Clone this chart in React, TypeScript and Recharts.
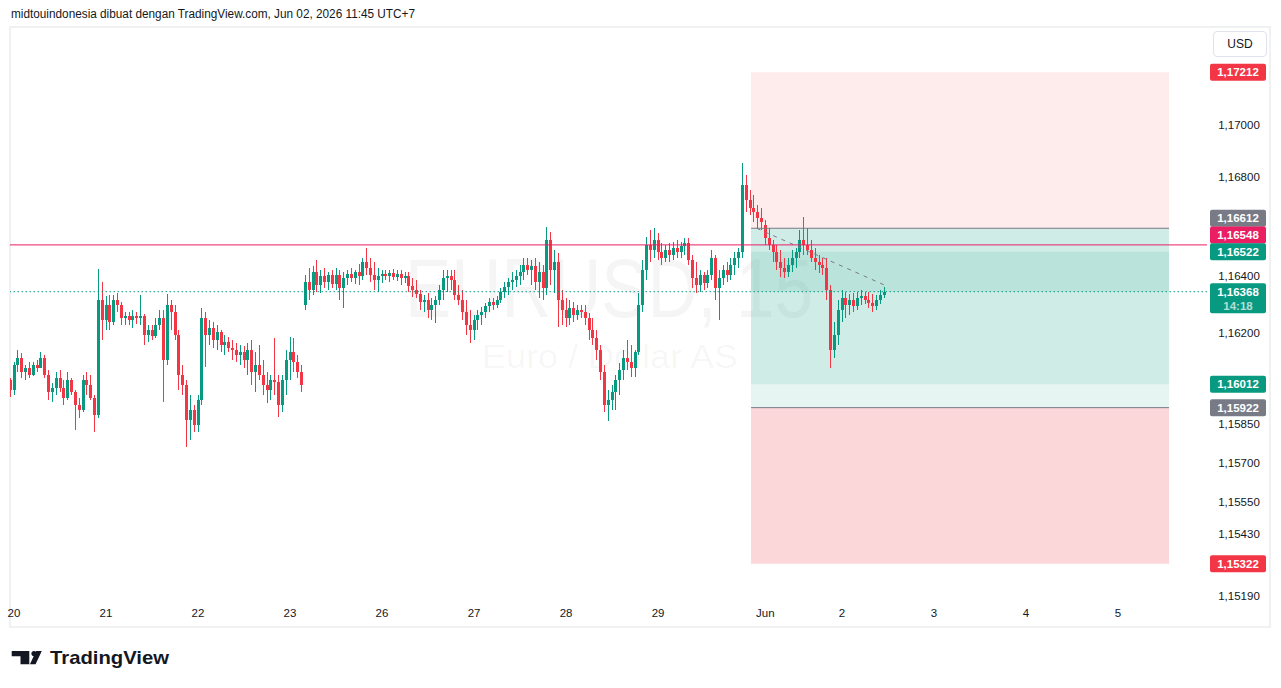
import React from 'react';
import { ComposedChart, Bar, XAxis, YAxis, ReferenceLine, ReferenceArea } from 'recharts';

// ---- Data (EUR/USD, hourly candles) ----
const firstHour = -1; // hours since May 20 00:00 (UTC+7), weekend gaps removed

const opens = [
  1.16028, 1.15990, 1.16086, 1.16113, 1.16059, 1.16075, 1.16048, 1.16086, 1.16075, 1.16113,
  1.16048, 1.15982, 1.15998, 1.16036, 1.15998, 1.15959, 1.16028, 1.15982, 1.15932, 1.15913,
  1.16028, 1.16009, 1.15959, 1.15894, 1.16336, 1.16259, 1.16317, 1.16252, 1.16336, 1.16317,
  1.16267, 1.16275, 1.16259, 1.16275, 1.16267, 1.16275, 1.16202, 1.16221, 1.16198, 1.16240,
  1.16267, 1.16105, 1.16317, 1.16290, 1.16202, 1.16048, 1.16009, 1.15875, 1.15913, 1.15855,
  1.15952, 1.16267, 1.16202, 1.16228, 1.16182, 1.16213, 1.16163, 1.16175, 1.16152, 1.16144,
  1.16125, 1.16136, 1.16105, 1.16144, 1.16059, 1.16086, 1.16048, 1.16009, 1.15990, 1.16028,
  1.16021, 1.15932, 1.16028, 1.16105, 1.16136, 1.16098, 1.16059, 1.16317, 1.16405, 1.16375,
  1.16444, 1.16394, 1.16428, 1.16405, 1.16432, 1.16398, 1.16432, 1.16382, 1.16421, 1.16436,
  1.16421, 1.16444, 1.16428, 1.16482, 1.16459, 1.16432, 1.16413, 1.16428, 1.16436, 1.16428,
  1.16440, 1.16425, 1.16436, 1.16421, 1.16428, 1.16390, 1.16375, 1.16359, 1.16328, 1.16336,
  1.16298, 1.16317, 1.16336, 1.16375, 1.16421, 1.16428, 1.16413, 1.16355, 1.16336, 1.16290,
  1.16240, 1.16221, 1.16259, 1.16278, 1.16290, 1.16313, 1.16328, 1.16317, 1.16336, 1.16367,
  1.16386, 1.16405, 1.16413, 1.16428, 1.16444, 1.16471, 1.16452, 1.16467, 1.16405, 1.16444,
  1.16382, 1.16567, 1.16452, 1.16482, 1.16336, 1.16298, 1.16267, 1.16305, 1.16278, 1.16298,
  1.16290, 1.16267, 1.16221, 1.16190, 1.16144, 1.16059, 1.15932, 1.15952, 1.15982, 1.16028,
  1.16067, 1.16113, 1.16098, 1.16075, 1.16136, 1.16317, 1.16452, 1.16548, 1.16528, 1.16567,
  1.16521, 1.16498, 1.16528, 1.16509, 1.16536, 1.16521, 1.16544, 1.16555, 1.16490, 1.16421,
  1.16394, 1.16432, 1.16402, 1.16432, 1.16498, 1.16382, 1.16421, 1.16452, 1.16432, 1.16471,
  1.16498, 1.16521, 1.16778, 1.16721, 1.16690, 1.16675, 1.16651, 1.16625, 1.16575, 1.16548,
  1.16521, 1.16482, 1.16459, 1.16444, 1.16471, 1.16498, 1.16521, 1.16567, 1.16548, 1.16528,
  1.16498, 1.16482, 1.16471, 1.16459, 1.16375, 1.16144, 1.16202, 1.16298, 1.16344, 1.16317,
  1.16336, 1.16313, 1.16344, 1.16352, 1.16336, 1.16325, 1.16313, 1.16336, 1.16355,
];

const highs = [
  1.16036, 1.16098, 1.16144, 1.16132, 1.16086, 1.16098, 1.16098, 1.16105, 1.16136, 1.16125,
  1.16067, 1.16017, 1.16059, 1.16067, 1.16028, 1.16059, 1.16036, 1.15990, 1.15959, 1.16048,
  1.16059, 1.16048, 1.15971, 1.16455, 1.16405, 1.16352, 1.16355, 1.16355, 1.16363, 1.16328,
  1.16290, 1.16290, 1.16298, 1.16290, 1.16355, 1.16282, 1.16240, 1.16240, 1.16267, 1.16298,
  1.16298, 1.16359, 1.16336, 1.16317, 1.16221, 1.16086, 1.16028, 1.15971, 1.15932, 1.15971,
  1.16305, 1.16290, 1.16259, 1.16252, 1.16240, 1.16221, 1.16202, 1.16194, 1.16182, 1.16171,
  1.16163, 1.16159, 1.16171, 1.16182, 1.16136, 1.16163, 1.16105, 1.16059, 1.16048, 1.16190,
  1.16048, 1.16048, 1.16144, 1.16194, 1.16190, 1.16125, 1.16086, 1.16432, 1.16459, 1.16467,
  1.16490, 1.16452, 1.16459, 1.16444, 1.16452, 1.16459, 1.16452, 1.16444, 1.16452, 1.16459,
  1.16452, 1.16475, 1.16498, 1.16536, 1.16498, 1.16482, 1.16459, 1.16452, 1.16452, 1.16452,
  1.16455, 1.16452, 1.16452, 1.16444, 1.16444, 1.16421, 1.16413, 1.16375, 1.16355, 1.16363,
  1.16344, 1.16352, 1.16394, 1.16452, 1.16452, 1.16452, 1.16452, 1.16394, 1.16375, 1.16336,
  1.16298, 1.16278, 1.16298, 1.16309, 1.16325, 1.16344, 1.16344, 1.16352, 1.16382, 1.16405,
  1.16421, 1.16444, 1.16452, 1.16471, 1.16498, 1.16498, 1.16490, 1.16498, 1.16482, 1.16471,
  1.16617, 1.16598, 1.16528, 1.16517, 1.16375, 1.16344, 1.16336, 1.16328, 1.16317, 1.16317,
  1.16317, 1.16286, 1.16267, 1.16221, 1.16163, 1.16086, 1.15990, 1.16009, 1.16048, 1.16094,
  1.16144, 1.16182, 1.16163, 1.16144, 1.16363, 1.16490, 1.16578, 1.16605, 1.16613, 1.16594,
  1.16555, 1.16548, 1.16555, 1.16559, 1.16567, 1.16559, 1.16575, 1.16575, 1.16509, 1.16482,
  1.16452, 1.16444, 1.16452, 1.16528, 1.16509, 1.16452, 1.16471, 1.16482, 1.16498, 1.16521,
  1.16536, 1.16863, 1.16817, 1.16759, 1.16740, 1.16702, 1.16690, 1.16644, 1.16613, 1.16567,
  1.16548, 1.16528, 1.16498, 1.16498, 1.16528, 1.16536, 1.16605, 1.16655, 1.16613, 1.16567,
  1.16536, 1.16509, 1.16498, 1.16498, 1.16394, 1.16252, 1.16336, 1.16375, 1.16367, 1.16359,
  1.16363, 1.16367, 1.16375, 1.16367, 1.16367, 1.16359, 1.16355, 1.16375, 1.16386,
];

const lows = [
  1.15963, 1.15971, 1.16059, 1.16036, 1.16028, 1.16036, 1.16044, 1.16059, 1.16075, 1.16036,
  1.15952, 1.15944, 1.15971, 1.15982, 1.15932, 1.15952, 1.15971, 1.15836, 1.15882, 1.15905,
  1.15971, 1.15952, 1.15828, 1.15882, 1.16182, 1.16221, 1.16221, 1.16240, 1.16290, 1.16240,
  1.16240, 1.16240, 1.16228, 1.16244, 1.16240, 1.16163, 1.16175, 1.16182, 1.16190, 1.16221,
  1.15944, 1.16086, 1.16221, 1.16182, 1.15990, 1.15971, 1.15771, 1.15798, 1.15828, 1.15828,
  1.15932, 1.16078, 1.16163, 1.16152, 1.16144, 1.16136, 1.16125, 1.16136, 1.16105, 1.16098,
  1.16086, 1.16075, 1.16048, 1.16009, 1.15982, 1.16028, 1.15971, 1.15940, 1.15952, 1.15971,
  1.15886, 1.15905, 1.15971, 1.16028, 1.16059, 1.16036, 1.15982, 1.16298, 1.16336, 1.16355,
  1.16367, 1.16363, 1.16382, 1.16375, 1.16382, 1.16375, 1.16336, 1.16305, 1.16394, 1.16405,
  1.16398, 1.16394, 1.16413, 1.16432, 1.16405, 1.16375, 1.16367, 1.16402, 1.16413, 1.16405,
  1.16413, 1.16409, 1.16394, 1.16402, 1.16367, 1.16348, 1.16344, 1.16298, 1.16290, 1.16267,
  1.16259, 1.16248, 1.16317, 1.16336, 1.16367, 1.16375, 1.16336, 1.16317, 1.16259, 1.16202,
  1.16171, 1.16182, 1.16221, 1.16240, 1.16267, 1.16290, 1.16298, 1.16305, 1.16325, 1.16344,
  1.16355, 1.16375, 1.16386, 1.16394, 1.16413, 1.16432, 1.16394, 1.16375, 1.16344, 1.16336,
  1.16355, 1.16394, 1.16363, 1.16232, 1.16240, 1.16232, 1.16240, 1.16252, 1.16259, 1.16267,
  1.16240, 1.16182, 1.16163, 1.16105, 1.16028, 1.15905, 1.15871, 1.15913, 1.15913, 1.15971,
  1.16028, 1.16067, 1.16040, 1.16040, 1.16125, 1.16290, 1.16413, 1.16482, 1.16498, 1.16490,
  1.16471, 1.16482, 1.16482, 1.16490, 1.16498, 1.16498, 1.16509, 1.16471, 1.16382, 1.16363,
  1.16367, 1.16375, 1.16382, 1.16413, 1.16336, 1.16259, 1.16394, 1.16405, 1.16413, 1.16432,
  1.16459, 1.16498, 1.16675, 1.16663, 1.16636, 1.16613, 1.16605, 1.16548, 1.16528, 1.16482,
  1.16452, 1.16425, 1.16421, 1.16425, 1.16444, 1.16459, 1.16498, 1.16509, 1.16509, 1.16482,
  1.16452, 1.16440, 1.16432, 1.16336, 1.16075, 1.16113, 1.16163, 1.16252, 1.16267, 1.16278,
  1.16290, 1.16298, 1.16317, 1.16321, 1.16305, 1.16290, 1.16298, 1.16321, 1.16344,
];

const closes = [
  1.15990, 1.16086, 1.16113, 1.16059, 1.16075, 1.16048, 1.16086, 1.16075, 1.16113, 1.16048,
  1.15982, 1.15998, 1.16036, 1.15998, 1.15959, 1.16028, 1.15982, 1.15932, 1.15913, 1.16028,
  1.16009, 1.15959, 1.15894, 1.16336, 1.16259, 1.16317, 1.16252, 1.16336, 1.16317, 1.16267,
  1.16275, 1.16259, 1.16275, 1.16267, 1.16275, 1.16202, 1.16221, 1.16198, 1.16240, 1.16267,
  1.16105, 1.16317, 1.16290, 1.16202, 1.16048, 1.16009, 1.15875, 1.15913, 1.15855, 1.15952,
  1.16267, 1.16202, 1.16228, 1.16182, 1.16213, 1.16163, 1.16175, 1.16152, 1.16144, 1.16125,
  1.16136, 1.16105, 1.16144, 1.16059, 1.16086, 1.16048, 1.16009, 1.15990, 1.16028, 1.16021,
  1.15932, 1.16028, 1.16105, 1.16136, 1.16098, 1.16059, 1.16009, 1.16405, 1.16375, 1.16444,
  1.16394, 1.16428, 1.16405, 1.16432, 1.16398, 1.16432, 1.16382, 1.16421, 1.16436, 1.16421,
  1.16444, 1.16428, 1.16482, 1.16459, 1.16432, 1.16413, 1.16428, 1.16436, 1.16428, 1.16440,
  1.16425, 1.16436, 1.16421, 1.16428, 1.16390, 1.16375, 1.16359, 1.16328, 1.16336, 1.16298,
  1.16317, 1.16336, 1.16375, 1.16421, 1.16428, 1.16413, 1.16355, 1.16336, 1.16290, 1.16240,
  1.16221, 1.16259, 1.16278, 1.16290, 1.16313, 1.16328, 1.16317, 1.16336, 1.16367, 1.16386,
  1.16405, 1.16413, 1.16428, 1.16444, 1.16471, 1.16452, 1.16467, 1.16405, 1.16444, 1.16382,
  1.16567, 1.16452, 1.16482, 1.16336, 1.16298, 1.16267, 1.16305, 1.16278, 1.16298, 1.16290,
  1.16267, 1.16221, 1.16190, 1.16144, 1.16059, 1.15932, 1.15952, 1.15982, 1.16028, 1.16067,
  1.16113, 1.16098, 1.16075, 1.16136, 1.16317, 1.16452, 1.16548, 1.16528, 1.16567, 1.16521,
  1.16498, 1.16528, 1.16509, 1.16536, 1.16521, 1.16544, 1.16555, 1.16490, 1.16421, 1.16394,
  1.16432, 1.16402, 1.16432, 1.16498, 1.16382, 1.16421, 1.16452, 1.16432, 1.16471, 1.16498,
  1.16521, 1.16778, 1.16721, 1.16690, 1.16675, 1.16651, 1.16636, 1.16575, 1.16548, 1.16521,
  1.16482, 1.16459, 1.16444, 1.16471, 1.16498, 1.16521, 1.16567, 1.16548, 1.16528, 1.16498,
  1.16482, 1.16471, 1.16459, 1.16375, 1.16144, 1.16202, 1.16298, 1.16344, 1.16317, 1.16336,
  1.16313, 1.16344, 1.16352, 1.16336, 1.16325, 1.16313, 1.16336, 1.16355, 1.16368,
];

const dayTicks = [0, 24, 48, 72, 96, 120, 144, 168, 196, 216, 240, 264, 288];
const dayLabels = ['20', '21', '22', '23', '26', '27', '28', '29', 'Jun', '2', '3', '4', '5'];
const priceTicks = [1.1519, 1.1543, 1.1555, 1.157, 1.1585, 1.162, 1.164, 1.168, 1.17];

// Drawings
const hLinePrice = 1.16548;
const lastPrice = 1.16368;
const lastCountdown = '14:18';
const toolStart = 192.26;
const toolEnd = 301.3;
const shortEntry = 1.16612;
const shortStop = 1.17212;
const shortTarget = 1.16012;
const longEntry = 1.15922;
const longStop = 1.15322;
const longTarget = 1.16522;
const pathStart = { x: 193.75, y: 1.16612 };
const pathEnd = { x: 227, y: 1.16394 };

const X_DOMAIN: [number, number] = [-1.0435, 311.2];
const Y_DOMAIN: [number, number] = [1.151822, 1.173822];

const UP = '#089981';
const DOWN = '#f23645';
const TEXT = '#131722';
const FONT = '"Liberation Sans", Arial, sans-serif';

const data = opens.map((o, i) => ({
  t: firstHour + i,
  o,
  h: highs[i],
  l: lows[i],
  c: closes[i],
  range: [lows[i], highs[i]],
}));

const fmt = (v: number) => v.toFixed(5).replace('.', ',');

const Candle = (props: any) => {
  const { x, width, payload } = props;
  let { y, height } = props;
  if (!payload || !isFinite(y) || !isFinite(height)) return null;
  if (height < 0) {
    y += height;
    height = -height;
  }
  const { o, h, l, c } = payload;
  const span = h - l || 1e-9;
  const yAt = (v: number) => y + ((h - v) / span) * height;
  const color = c >= o ? UP : DOWN;
  const cx = Math.round(x + width / 2);
  const wTop = Math.round(y);
  const wBot = Math.round(y + height);
  const bTop = Math.round(yAt(Math.max(o, c)));
  const bBot = Math.round(yAt(Math.min(o, c)));
  return (
    <g>
      <rect x={cx} y={wTop} width={1} height={Math.max(1, wBot - wTop)} fill={color} />
      <rect x={cx - 1} y={bTop} width={3} height={Math.max(1, bBot - bTop)} fill={color} />
    </g>
  );
};

const DayTick = (props: any) => {
  const { x, y, payload } = props;
  const idx = dayTicks.indexOf(payload.value);
  return (
    <text x={x} y={y + 13} textAnchor="middle" dominantBaseline="central" fontSize={11.5} fontFamily={FONT} fill={TEXT}>
      {idx >= 0 ? dayLabels[idx] : ''}
    </text>
  );
};

// the 1,16400 label sits just above the last-price tag
const tickShift = (v: number) => (Math.abs(v - 1.164) < 1e-9 ? -7 : -2);

const PriceTick = (props: any) => {
  const { x, y, payload } = props;
  return (
    <text
      x={x + 32}
      y={y + tickShift(payload.value)}
      textAnchor="middle"
      dominantBaseline="central"
      fontSize={11.5}
      fontFamily={FONT}
      fill={TEXT}
    >
      {fmt(payload.value)}
    </text>
  );
};

const makeTag = (value: number, bg: string, dy = 0, sub?: string) => (props: any) => {
  const vb = props.viewBox || {};
  const x = (vb.x || 0) + (vb.width || 0) + 3;
  const y = (vb.y || 0) + dy;
  const h = sub ? 30 : 17;
  return (
    <g>
      <rect x={x} y={y - 8.5} width={56} height={h} rx={2} fill={bg} />
      <text x={x + 28} y={y} textAnchor="middle" dominantBaseline="central" fontSize={11.5} fontWeight={700} fontFamily={FONT} fill="#ffffff">
        {fmt(value)}
      </text>
      {sub ? (
        <text x={x + 28} y={y + 14} textAnchor="middle" dominantBaseline="central" fontSize={11.5} fontWeight={700} fontFamily={FONT} fill="#ffffff" fillOpacity={0.7}>
          {sub}
        </text>
      ) : null}
    </g>
  );
};

const tags = [
  { v: shortStop, bg: DOWN, dy: 0 },
  { v: shortEntry, bg: '#787b86', dy: -10 },
  { v: hLinePrice, bg: '#e91e63', dy: -10 },
  { v: longTarget, bg: UP, dy: 0 },
  { v: shortTarget, bg: UP, dy: 0 },
  { v: longEntry, bg: '#787b86', dy: 0 },
  { v: longStop, bg: DOWN, dy: 0 },
];

export default function App() {
  return (
    <div style={{ position: 'absolute', left: 0, top: 0, width: 1281, height: 688, background: '#ffffff', overflow: 'hidden' }}>
      {/* frame */}
      <div style={{ position: 'absolute', left: 9, top: 26, width: 1262, height: 602, border: '2px solid #f0f1f3', boxSizing: 'border-box' }} />
      {/* watermark */}
      <svg width={1281} height={688} style={{ position: 'absolute', left: 0, top: 0 }}>
        <text x={405} y={317} fontSize={83} fontFamily={FONT} fill="#131722" fillOpacity={0.045} textLength={408} lengthAdjust="spacingAndGlyphs">
          EURUSD, 15
        </text>
        <text x={482} y={368} fontSize={34} fontFamily={FONT} fill="#131722" fillOpacity={0.045} textLength={256} lengthAdjust="spacingAndGlyphs">
          Euro / Dollar AS
        </text>
      </svg>
      <div style={{ position: 'absolute', left: 0, top: 0 }}>
        <ComposedChart width={1281} height={688} data={data} margin={{ top: 28, right: 10, bottom: 60, left: 10 }}>
          <XAxis
            type="number"
            dataKey="t"
            domain={X_DOMAIN}
            allowDataOverflow
            ticks={dayTicks}
            interval={0}
            tickLine={false}
            axisLine={false}
            tickSize={0}
            tickMargin={0}
            height={28}
            tick={<DayTick />}
          />
          <YAxis
            orientation="right"
            domain={Y_DOMAIN}
            allowDataOverflow
            ticks={priceTicks}
            interval={0}
            tickLine={false}
            axisLine={false}
            tickSize={0}
            tickMargin={0}
            width={64}
            tick={<PriceTick />}
          />
          {/* position tools */}
          <ReferenceArea x1={toolStart} x2={toolEnd} y1={shortEntry} y2={shortStop} fill={DOWN} fillOpacity={0.1} stroke="none" />
          <ReferenceArea x1={toolStart} x2={toolEnd} y1={shortTarget} y2={shortEntry} fill={UP} fillOpacity={0.1} stroke="none" />
          <ReferenceArea x1={toolStart} x2={toolEnd} y1={lastPrice} y2={shortEntry} fill={UP} fillOpacity={0.1} stroke="none" />
          <ReferenceArea x1={toolStart} x2={toolEnd} y1={longEntry} y2={longTarget} fill={UP} fillOpacity={0.1} stroke="none" />
          <ReferenceArea x1={toolStart} x2={toolEnd} y1={longStop} y2={longEntry} fill={DOWN} fillOpacity={0.2} stroke="none" />
          <Bar dataKey="range" barSize={3} shape={<Candle />} isAnimationActive={false} />
          <ReferenceLine segment={[{ x: toolStart, y: shortEntry }, { x: toolEnd, y: shortEntry }]} stroke="#787b86" strokeWidth={1} />
          <ReferenceLine segment={[{ x: toolStart, y: longEntry }, { x: toolEnd, y: longEntry }]} stroke="#787b86" strokeWidth={1} />
          <ReferenceLine segment={[pathStart, pathEnd]} stroke="#787b86" strokeWidth={1} strokeDasharray="4 5" />
          <ReferenceLine y={hLinePrice} stroke="#e91e63" strokeWidth={1} />
          <ReferenceLine y={lastPrice} stroke={UP} strokeWidth={1} strokeDasharray="1.5 2.5" label={makeTag(lastPrice, UP, 0, lastCountdown)} />
          {tags.map((tg) => (
            <ReferenceLine key={tg.v} y={tg.v} stroke="none" strokeOpacity={0} label={makeTag(tg.v, tg.bg, tg.dy)} />
          ))}
        </ComposedChart>
      </div>
      {/* USD button */}
      <div
        style={{
          position: 'absolute',
          left: 1213,
          top: 31,
          width: 54,
          height: 26,
          border: '1px solid #e0e3eb',
          borderRadius: 4,
          boxSizing: 'border-box',
          fontFamily: FONT,
          fontSize: 12,
          color: TEXT,
          display: 'flex',
          alignItems: 'center',
          justifyContent: 'center',
          background: '#fff',
        }}
      >
        USD
      </div>
      {/* header and footer */}
      <svg width={1281} height={688} style={{ position: 'absolute', left: 0, top: 0, pointerEvents: 'none' }}>
        <text x={11} y={18.3} fontSize={12.5} fontFamily={FONT} fill={TEXT} textLength={404} lengthAdjust="spacingAndGlyphs">
          midtouindonesia dibuat dengan TradingView.com, Jun 02, 2026 11:45 UTC+7
        </text>
        <g fill={TEXT}>
          <path d="M11.7 651 H29.3 V664.3 H20.5 V656.2 H11.7 Z" />
          <circle cx={34} cy={653.6} r={2.6} />
          <path d="M36.2 651 H41.8 L35.6 664.3 H29.9 Z" />
          <text x={50} y={664.3} fontSize={19} fontWeight={700} fontFamily={FONT} textLength={119} lengthAdjust="spacingAndGlyphs">
            TradingView
          </text>
        </g>
      </svg>
    </div>
  );
}
